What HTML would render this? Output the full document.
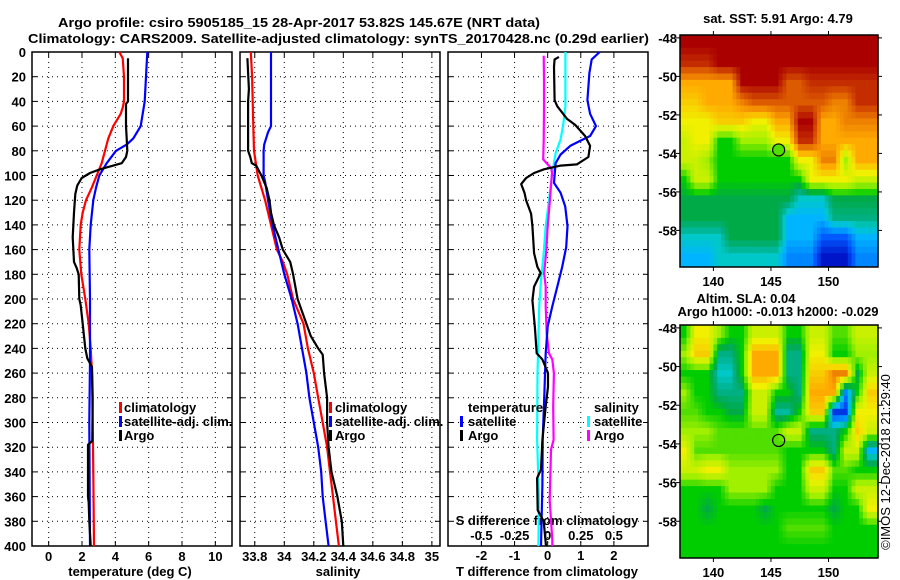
<!DOCTYPE html>
<html><head><meta charset="utf-8"><style>
html,body{margin:0;padding:0;background:#fff;}
svg{display:block;font-family:"Liberation Sans",Arial,sans-serif;}
.b{font-weight:bold;font-size:13px;}
</style></head><body>
<svg id="fig" width="900" height="580" viewBox="0 0 900 580" xmlns="http://www.w3.org/2000/svg">
<rect x="0" y="0" width="900" height="580" fill="#fff"/>
<text class="b" x="58" y="27" textLength="482" lengthAdjust="spacingAndGlyphs">Argo profile: csiro 5905185_15 28-Apr-2017 53.82S 145.67E (NRT data)</text>
<text class="b" x="28" y="43" textLength="621" lengthAdjust="spacingAndGlyphs">Climatology: CARS2009. Satellite-adjusted climatology: synTS_20170428.nc (0.29d earlier)</text>
<g id="g"></g>
</svg>
<script>
// ---------- data ----------
const depthTicks=[0,20,40,60,80,100,120,140,160,180,200,220,240,260,280,300,320,340,360,380,400];
const tempTicks=[0,2,4,6,8,10];
const salTicks=[33.8,34,34.2,34.4,34.6,34.8,35];
const salTickLabels=["33.8","34","34.2","34.4","34.6","34.8","35"];
const diffTicks=[-2,-1,0,1,2];
const sdiffTickLabels=["-0.5","-0.25","0","0.25","0.5"];

const tClimDepth=[0,5,20,40,45,50,60,70,80,90,100,110,120,130,140,160,180,200,220,240,260,300,340,400];
const tClimVal=[4.24,4.44,4.52,4.52,4.44,4.32,3.88,3.58,3.38,3.18,2.88,2.58,2.24,2.04,1.92,1.84,1.96,2.2,2.4,2.52,2.6,2.64,2.68,2.72];
const tSatDepth=[0,20,40,60,70,75,80,90,100,110,120,140,160,200,250,300,400];
const tSatVal=[5.92,5.84,5.76,5.52,5.08,4.68,4.04,3.48,3.04,2.84,2.68,2.52,2.44,2.48,2.48,2.44,2.48];
const tArgoDepth=[5,40,42,60,70,80,85,90,92,95,98,102,108,115,130,150,170,175,180,200,205,220,240,248,255,280,315,318,360,365,380,400];
const tArgoVal=[4.76,4.76,4.64,4.64,4.68,4.72,4.64,4.38,3.88,3.08,2.48,1.98,1.72,1.6,1.52,1.44,1.52,1.68,1.8,1.84,1.92,2.04,2.2,2.32,2.6,2.64,2.62,2.36,2.36,2.4,2.44,2.52];

const sClimDepth=[0,20,60,80,100,120,140,160,170,180,200,220,240,260,280,300,320,340,360,380,400];
const sClimVal=[33.773,33.782,33.79,33.795,33.82,33.87,33.91,33.95,33.99,34.02,34.06,34.13,34.16,34.2,34.23,34.26,34.29,34.31,34.33,34.35,34.37];
const sSatDepth=[0,20,60,65,75,80,100,105,120,140,160,180,200,220,240,260,280,300,320,340,360,380,400];
const sSatVal=[33.91,33.91,33.91,33.89,33.864,33.86,33.86,33.87,33.89,33.92,33.96,34.0,34.05,34.09,34.12,34.15,34.17,34.2,34.23,34.25,34.26,34.28,34.3];
const sArgoDepth=[5,30,40,80,85,90,92,100,110,120,130,140,150,160,170,180,200,210,220,230,240,245,260,280,300,320,340,360,380,400];
const sArgoVal=[33.75,33.76,33.755,33.755,33.77,33.78,33.81,33.845,33.88,33.9,33.91,33.93,33.965,33.99,34.04,34.06,34.09,34.12,34.15,34.18,34.23,34.26,34.27,34.29,34.29,34.3,34.32,34.36,34.39,34.4];

const dTSatDepth=[0,6,17,39,50,60,68,72,76,83,90,106,114,125,141,158,174,190,206,222,244,276,314,350,400];
const dTSatVal=[1.57,1.33,1.26,1.2,1.28,1.46,1.28,0.98,0.68,0.39,0.24,0.19,0.39,0.53,0.6,0.56,0.44,0.29,0.14,0,-0.06,-0.1,-0.15,-0.16,-0.2];
const dTArgoDepth=[4,6,12,39,44,54,59,68,76,85,91,92,95,98,102,107,114,120,131,141,163,174,179,190,201,222,244,249,260,271,287,314,338,345,371,380,400];
const dTArgoVal=[0.34,0.21,0.19,0.21,0.29,0.58,0.83,1.13,1.28,1.23,0.88,0.39,-0.11,-0.41,-0.65,-0.8,-0.7,-0.65,-0.5,-0.46,-0.41,-0.31,-0.21,-0.41,-0.46,-0.39,-0.33,-0.16,0.01,0.01,-0.06,-0.16,-0.2,-0.32,-0.3,-0.12,-0.05];
const dSSatDepth=[0,44,60,71,82,98,120,141,163,185,206,233,260,314,360,400];
const dSSatVal=[0.134,0.134,0.116,0.097,0.06,0.035,0.01,-0.015,-0.03,-0.05,-0.064,-0.07,-0.077,-0.08,-0.066,-0.07];
const dSArgoDepth=[3,22,44,71,87,91,94,98,120,141,163,179,190,206,228,244,249,260,287,314,322,363,395,400];
const dSArgoVal=[-0.03,-0.028,-0.028,-0.03,-0.034,0,0.027,0.033,0.017,0,-0.012,-0.027,-0.015,-0.015,-0.007,0.01,0.035,0.047,0.042,0.045,0.025,0.015,0.035,0.035];

// maps: rows lat -48..-60 (1 deg), cols lon 137..155 (1 deg), colour index 0..10
const sstGrid=[
[10,10,10,10,10,10,10,10,10,10,10,10,10,10,10,10,10,10],
[9.5,9.5,9.5,10,10,10,10,10,10,10,10,10,10,10,10,10,10,10],
[8,8,8,8,8,10,10,10,10,9,9,9.5,9.5,9.5,9.5,9.5,9.5,9.5],
[7.5,7.5,8,8,8,8.5,9,9,9,9,9,9,9,8.5,8.5,9.5,9.5,9.5],
[7,7,7,7.5,7.5,7.5,7,7,8,8,10,10,8,8,8.5,8.5,8.5,8.5],
[6.5,7,7,5,5,6,6,6,7,7,9.5,9.5,8,8,8,8,8,8],
[6.5,6.5,6,5,5,5,5,5,5,5,7,7,8.5,8.5,6,8,8,8],
[5,6.5,6.5,5,5,5,5,5,5,5,5,7,7,7,7,6.5,6.5,6.5],
[4.5,4.5,4.5,4.5,4.5,4.5,4.5,4.5,4.5,4.5,3.5,3.5,3.5,4.5,4.5,4.5,4.5,4.5],
[4.5,4.5,4.5,4.5,4.5,4.5,4.5,4.5,4.5,3,3,3,3,4,4,4,4,4],
[3.5,3.5,3.5,3.5,4.5,4.5,4.5,4.5,4.5,3,3,3,2,2,2,3,3,3],
[3,3,3,3.5,3.5,3.5,3.5,3.5,3.5,2.5,2.5,2.5,1,1,1,2.5,2.5,2.5]];
const slaGrid=[
[5,7,7,6,5,5,6.5,6.5,6.5,5,5,6.5,6.5,5.5,5.5,6.5,6.5,6.5],
[6,7.5,7.5,4,4,5,8,8,8,4,4,7,7,5,5,6,6,6],
[5,5,5,3.5,3.5,5,8,8,8,4,4,7.5,7.5,8.5,8.5,4.5,6.5,6.5],
[6,5,5,4,4,4,6.5,6.5,5,5,4,8,8,8,2.5,5,7.5,7.5],
[5.5,5.5,5,5,4.5,4.5,6.5,6.5,3.8,3.8,5,7.5,7.5,1.5,1.5,7,7,7],
[6,6,6,5.5,5.5,5.5,5.5,5.5,5.5,6.5,6.5,4,4,4,5,7.5,6.5,6.5],
[7,5.5,5.5,5.5,5.5,5.5,5.5,5.5,5.5,5,5,5,5,4,6.5,6.5,3,3],
[6.5,6.5,7,7,6,6,6,6,6,5,5,7.5,7.5,5.5,5.5,5,5,5],
[5,5,5,5,6,6,6,6,5,5,5,6.5,6.5,5,5,6.5,6.5,6.5],
[5,5,4.5,5,5,5,5,4.5,5,5,5,5,5,4.5,5,5,7,7],
[5,5,5,5,5,5,5,5,5,5.5,5.5,5.5,5.5,5,5,5,5,5],
[5,5,5,5,5,5,5,5,5,5,5,5,5,5,5,5,5,5]];
const latTicks=[-48,-50,-52,-54,-56,-58];
const lonTicks=[140,145,150];
const argoLon=145.67, argoLat=-53.82;

// ---------- drawing ----------
const NS="http://www.w3.org/2000/svg";
const G=document.getElementById('g');
function mk(tag,attrs,parent){const e=document.createElementNS(NS,tag);for(const k in attrs)e.setAttribute(k,attrs[k]);(parent||G).appendChild(e);return e;}
const PT=52,PB=546;
function yD(d){return PT+(PB-PT)*d/400;}
function lin(d0,d1,r0,r1){return v=>r0+(v-d0)*(r1-r0)/(d1-d0);}
const panels=[
 {x0:32,x1:232,sx:lin(-1,11,32,232)},
 {x0:240,x1:440,sx:lin(33.7,35.055,240,440)},
 {x0:448,x1:648,sx:lin(-3.01,3.03,448,648)}];
const sS=lin(-0.7525,0.7575,448,648);

function frame(p,idx,xt){
  for(const t of xt){const x=p.sx(t);
    const l=mk('line',{x1:x,y1:PT,x2:x,y2:PB,stroke:'#000','stroke-width':1,'stroke-dasharray':'1 4'});
    
    const tk=mk('line',{x1:x,y1:PB,x2:x,y2:PB-5,stroke:'#000'});
    const tk2=mk('line',{x1:x,y1:PT,x2:x,y2:PT+5,stroke:'#000'});}
  for(const d of depthTicks){const y=yD(d);
    if(d>0&&d<400){const l=mk('line',{x1:p.x0,y1:y,x2:p.x1,y2:y,stroke:'#000','stroke-width':1,'stroke-dasharray':'1 4'});
    }
    const a=mk('line',{x1:p.x0,y1:y,x2:p.x0+5,y2:y,stroke:'#000'});
    const b=mk('line',{x1:p.x1,y1:y,x2:p.x1-5,y2:y,stroke:'#000'});}
  const r=mk('rect',{x:p.x0,y:PT,width:p.x1-p.x0,height:PB-PT,fill:'none',stroke:'#000','stroke-width':1.5});
  
}
function txt(s,x,y,anchor,name,extra){const t=mk('text',Object.assign({x:x,y:y,'text-anchor':anchor||'start',class:'b'},extra||{}));t.textContent=s;
  return t;}
function line(depths,vals,sx,color,name,w){
  const pts=depths.map((d,i)=>sx(vals[i]).toFixed(1)+','+yD(d).toFixed(1)).join(' ');
  const pl=mk('polyline',{points:pts,fill:'none',stroke:color,'stroke-width':w||2.2,'stroke-linejoin':'round'});
  }
function legMark(x,y,color){const m=mk('rect',{x:x,y:y-10,width:3,height:11,fill:color});
  }

frame(panels[0],1,tempTicks);frame(panels[1],2,salTicks);frame(panels[2],3,diffTicks);
for(const d of depthTicks)txt(String(d),26,yD(d)+5,'end','depth-tick-label');
tempTicks.forEach(t=>txt(String(t),panels[0].sx(t),561,'middle','temp-tick-label'));
salTicks.forEach((t,i)=>txt(salTickLabels[i],panels[1].sx(t),561,'middle','salinity-tick-label'));
diffTicks.forEach(t=>txt(String(t),panels[2].sx(t),560,'middle','tdiff-tick-label'));
[-0.5,-0.25,0,0.25,0.5].forEach((t,i)=>txt(sdiffTickLabels[i],sS(t),540,'middle','sdiff-tick-label'));
txt('temperature (deg C)',130,576,'middle','temp-axis-title');
txt('salinity',338,576,'middle','salinity-axis-title');
txt('T difference from climatology',547,576,'middle','tdiff-axis-title');
txt('S difference from climatology',547,525,'middle','sdiff-axis-title');

const P0=panels[0].sx,P1=panels[1].sx,P2=panels[2].sx;
line(tClimDepth,tClimVal,P0,'#f00','temp-climatology-line');
line(tSatDepth,tSatVal,P0,'#0000ff','temp-satellite-line');
line(tArgoDepth,tArgoVal,P0,'#000','temp-argo-line');
line(sClimDepth,sClimVal,P1,'#f00','sal-climatology-line');
line(sSatDepth,sSatVal,P1,'#0000ff','sal-satellite-line');
line(sArgoDepth,sArgoVal,P1,'#000','sal-argo-line');
line(dSSatDepth,dSSatVal,sS,'#00ffff','sdiff-satellite-line');
line(dSArgoDepth,dSArgoVal,sS,'#ff00ff','sdiff-argo-line');
line(dTSatDepth,dTSatVal,P2,'#0000ff','tdiff-satellite-line');
line(dTArgoDepth,dTArgoVal,P2,'#000','tdiff-argo-line');

// legends
[[119,124],[329,335]].forEach(([mx,tx],k)=>{
  legMark(mx,412,'#f00');txt('climatology',tx,412,'start','legend-climatology');
  legMark(mx,426,'#0000ff');txt('satellite-adj. clim.',tx,426,'start','legend-satellite');
  legMark(mx,440,'#000');txt('Argo',tx,440,'start','legend-argo');});
txt('temperature',468,412,'start','legend-temperature-heading');
legMark(460,426,'#0000ff');txt('satellite',468,426,'start','legend-t-satellite');
legMark(460,440,'#000');txt('Argo',468,440,'start','legend-t-argo');
txt('salinity',594,412,'start','legend-salinity-heading');
legMark(587,426,'#00ffff');txt('satellite',594,426,'start','legend-s-satellite');
legMark(587,440,'#ff00ff');txt('Argo',594,440,'start','legend-s-argo');

// colormap
const stops=[[0,[0,0,140]],[1,[0,20,200]],[2,[0,90,255]],[3,[0,180,255]],[3.5,[0,200,200]],[4,[0,176,130]],[4.5,[0,170,70]],[5,[0,205,0]],[6,[160,240,0]],[7,[240,240,0]],[8,[255,170,0]],[9,[220,90,0]],[10,[170,0,0]]];
function cmap(v){for(let i=1;i<stops.length;i++){if(v<=stops[i][0]){const a=stops[i-1],b=stops[i],f=(v-a[0])/(b[0]-a[0]);
  const c=a[1].map((q,j)=>Math.round(q+(b[1][j]-q)*f));return 'rgb('+c.join(',')+')';}}return 'rgb(170,0,0)';}

function sample(grid,fr,fc){ // bilinear between cell centres
  const R=grid.length,C=grid[0].length;
  let r=fr-0.5,c=fc-0.5;r=Math.max(0,Math.min(R-1,r));c=Math.max(0,Math.min(C-1,c));
  const r0=Math.floor(r),c0=Math.floor(c),r1=Math.min(R-1,r0+1),c1=Math.min(C-1,c0+1),a=r-r0,b=c-c0;
  return grid[r0][c0]*(1-a)*(1-b)+grid[r0][c1]*(1-a)*b+grid[r1][c0]*a*(1-b)+grid[r1][c1]*a*b;}

function map(grid,y0,y1,name,dotFill){
  const x0=680,x1=878;
  const sx=lin(137.1,154.3,x0,x1), sy=lin(-47.85,-59.9,y0,y1);
  const cg=mk('g',{});
  const sub=3;
  const R=grid.length,C=grid[0].length;
  for(let r=0;r<R*sub;r++)for(let c=0;c<C*sub;c++){
    const fr=(r+0.5)/sub,fc=(c+0.5)/sub;
    const v=sample(grid,fr,fc);
    const lonA=137+c/sub,latA=-47.85-r/sub;
    const xa=Math.max(x0,sx(lonA)),xb=Math.min(x1,sx(lonA+1/sub)),ya=sy(latA),yb=Math.min(y1,sy(latA-1/sub));
    if(xb<=xa||yb<=ya)continue;
    const cell=mk('rect',{x:xa.toFixed(1),y:ya.toFixed(1),width:(xb-xa+0.6).toFixed(1),height:(yb-ya+0.6).toFixed(1),fill:cmap(v)},cg);
    
    }
  const fr=mk('rect',{x:x0,y:y0,width:x1-x0,height:y1-y0,fill:'none',stroke:'#000','stroke-width':1.5});
  
  latTicks.forEach(l=>{const y=sy(l);
    const a=mk('line',{x1:x0-4,y1:y,x2:x0,y2:y,stroke:'#000'});
    const b=mk('line',{x1:x1,y1:y,x2:x1+4,y2:y,stroke:'#000'});
    txt(String(l),677,y+5,'end','lat-tick-label');});
  lonTicks.forEach(l=>{const x=sx(l);
    const a=mk('line',{x1:x,y1:y0-4,x2:x,y2:y0,stroke:'#000'});
    const b=mk('line',{x1:x,y1:y1,x2:x,y2:y1+4,stroke:'#000'});
    txt(String(l),x,y1+19,'middle','lon-tick-label');});
  const c=mk('circle',{cx:sx(argoLon),cy:sy(argoLat),r:6,fill:dotFill,stroke:'#000','stroke-width':1.2});
  
}
map(sstGrid,35,267,'sst-map',cmap(5.5));
map(slaGrid,325,558,'sla-map','none');
txt('sat. SST: 5.91 Argo: 4.79',778,23,'middle','sst-map-title');
txt('Altim. SLA: 0.04',746,303,'middle','sla-map-title-1');
txt('Argo h1000: -0.013 h2000: -0.029',778,316,'middle','sla-map-title-2');
const cr=txt('©IMOS 12-Dec-2018 21:29:40',0,0,'middle','copyright-timestamp',{transform:'translate(890,462) rotate(-90)'});
cr.setAttribute('class','');cr.setAttribute('font-size','13');
</script>
</body></html>
